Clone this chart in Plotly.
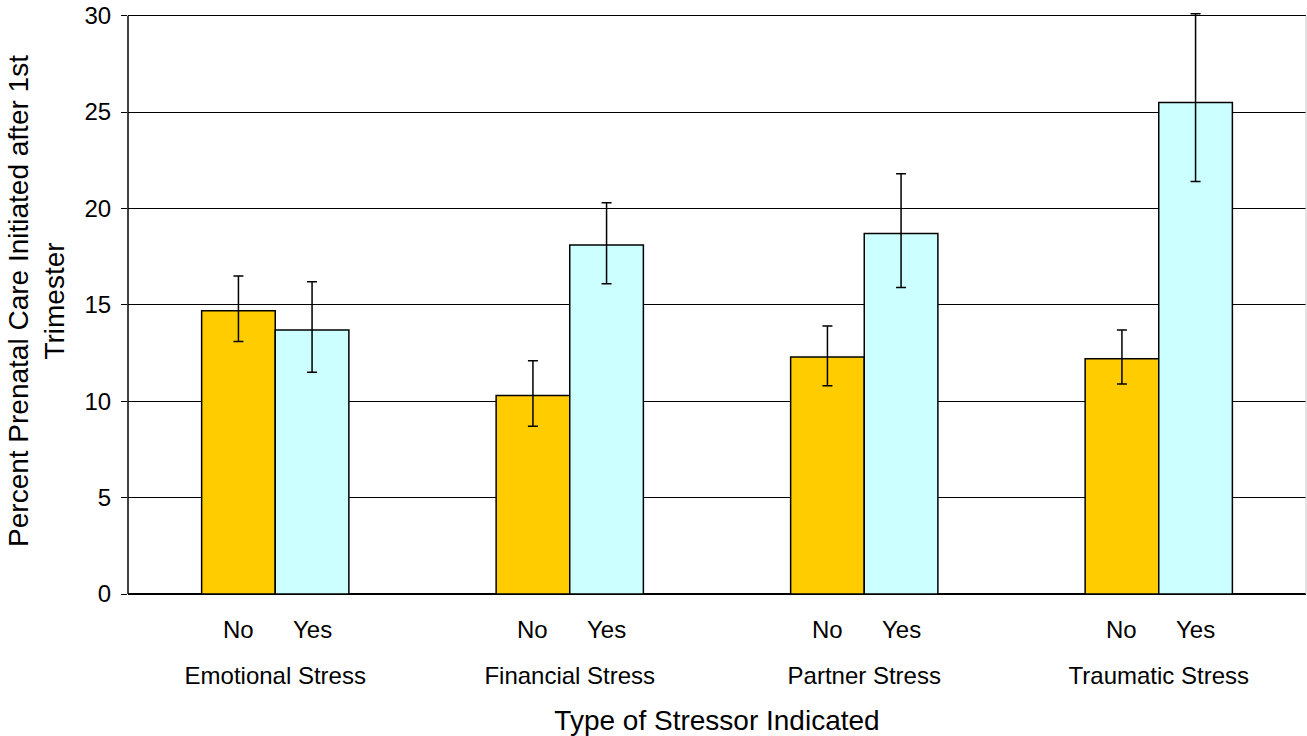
import plotly.graph_objects as go

groups = ["Emotional Stress", "Financial Stress", "Partner Stress", "Traumatic Stress"]
levels = ["No", "Yes"]
no_vals = [14.7, 10.3, 12.3, 12.2]
no_hi = [16.5, 12.1, 13.9, 13.7]
no_lo = [13.1, 8.7, 10.8, 10.9]
yes_vals = [13.7, 18.1, 18.7, 25.5]
yes_hi = [16.2, 20.3, 21.8, 30.1]
yes_lo = [11.5, 16.1, 15.9, 21.4]
y_ticks = [0, 5, 10, 15, 20, 25, 30]

FONT = "Liberation Sans, Arial, sans-serif"

def err(vals, hi, lo):
    return dict(type="data", symmetric=False,
                array=[h - v for h, v in zip(hi, vals)],
                arrayminus=[v - l for v, l in zip(vals, lo)],
                color="black", thickness=1.5, width=5)

fig = go.Figure()
fig.add_trace(go.Bar(x=groups, y=no_vals, name=levels[0], marker_color="#FFCC00",
                     marker_line=dict(color="black", width=1.5),
                     error_y=err(no_vals, no_hi, no_lo)))
fig.add_trace(go.Bar(x=groups, y=yes_vals, name=levels[1], marker_color="#CCFFFF",
                     marker_line=dict(color="black", width=1.5),
                     error_y=err(yes_vals, yes_hi, yes_lo)))

for g in groups:
    for lv, sh in zip(levels, [-37, 37]):
        fig.add_annotation(x=g, xref="x", y=0, yref="paper", yanchor="top",
                           yshift=-20, xshift=sh, text=lv, showarrow=False,
                           font=dict(family=FONT, size=24, color="black"))

# left axis line and light right frame line, spanning the 0..30 value range
fig.add_shape(type="line", xref="paper", yref="y", x0=0, x1=0, y0=0, y1=y_ticks[-1],
              line=dict(color="black", width=1.5))
fig.add_shape(type="line", xref="paper", yref="y", x0=1, x1=1, y0=0, y1=y_ticks[-1],
              line=dict(color="#c8c8c8", width=1))

fig.update_layout(
    width=1307, height=736,
    margin=dict(l=128, r=1, t=8, b=142),
    paper_bgcolor="white", plot_bgcolor="white",
    barmode="group", bargap=0.5, bargroupgap=0,
    showlegend=False,
    font=dict(family=FONT, color="black", size=24),
    xaxis=dict(type="category", showgrid=False, showline=False, ticks="",
               automargin=False,
               ticklabelstandoff=65, tickfont=dict(size=24),
               title=dict(text="Type of Stressor Indicated", font=dict(size=28), standoff=24)),
    yaxis=dict(range=[0, 30.4], tickvals=y_ticks, showgrid=True, gridcolor="black", gridwidth=1,
               automargin=False, ticklabeloverflow="allow",
               showline=False, ticks="outside", ticklen=6,
               tickcolor="black", zeroline=True, zerolinecolor="black", zerolinewidth=1.5,
               tickfont=dict(size=24), ticklabelstandoff=5,
               title=dict(text="Percent Prenatal Care Initiated after 1st<br>Trimester",
                          font=dict(size=28), standoff=11)),
)
fig.write_html("out.html", config={"displayModeBar": False},
               post_script="document.body.style.margin='0';")
